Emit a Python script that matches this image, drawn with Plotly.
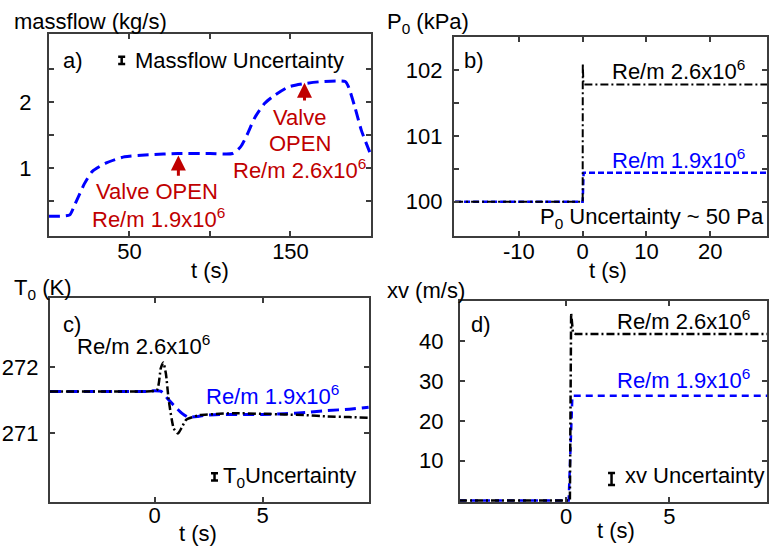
import plotly.graph_objects as go

W, H = 769, 546
FONT = "Liberation Sans, Arial, sans-serif"
FS = 22
BLUE = "#0000FF"
RED = "#C00000"
BLACK = "#000000"
FRAME = "#3c3c3c"

# ---- Panel a: massflow ----
t_a = [0, 8, 13, 16, 19, 22, 27, 35, 47, 62, 80, 100, 114, 119, 123, 128, 134, 140, 149, 159, 170, 184, 186, 190, 194, 200]
m_a = [0.27, 0.27, 0.29, 0.44, 0.60, 0.76, 0.95, 1.07, 1.17, 1.20, 1.22, 1.22, 1.22, 1.32, 1.50, 1.77, 1.98, 2.10, 2.23, 2.28, 2.31, 2.31, 2.23, 1.92, 1.57, 1.19]

# ---- Panel b: P0 ----
t_b_lo = [-20, 0, 0.15, 29]
p_b_lo = [100.0, 100.0, 100.44, 100.44]
t_b_hi = [-20, 0, 0.02, 0.12, 29]
p_b_hi = [100.0, 100.0, 102.1, 101.78, 101.78]
ticks_b = [-10, 0, 10, 20]
ticklabels_b = ["-10", "0", "10", "20"]

# ---- Panel c: T0 ----
t_c_lo = [-4.85, -1, -0.3, 0.0, 0.3, 0.6, 0.85, 1.0, 1.25, 1.54, 2.0, 2.38, 3.0, 4.0, 5.0, 6.0, 7.0, 8.0, 9.0, 9.9]
T_c_lo = [271.63, 271.63, 271.63, 271.64, 271.63, 271.52, 271.43, 271.38, 271.30, 271.24, 271.25, 271.27, 271.28, 271.28, 271.28, 271.29, 271.31, 271.34, 271.36, 271.39]
t_c_hi = [-4.85, -1, 0.1, 0.28, 0.4, 0.52, 0.65, 0.88, 1.08, 1.25, 1.46, 2.08, 3.0, 3.6, 5.0, 6.0, 7.0, 8.0, 9.0, 9.9]
T_c_hi = [271.63, 271.63, 271.65, 271.98, 272.07, 271.90, 271.50, 271.07, 270.99, 271.08, 271.20, 271.27, 271.29, 271.30, 271.29, 271.28, 271.27, 271.25, 271.24, 271.23]

# ---- Panel d: xv ----
t_d_lo = [-5.2, 0.12, 0.3, 9.8]
v_d_lo = [0.0, 0.0, 26.3, 26.3]
t_d_hi = [-5.2, 0.18, 0.24, 0.33, 0.45, 9.8]
v_d_hi = [0.0, 0.0, 47.0, 42.0, 41.8, 41.8]

# uncertainty markers: (t, value, half-range)
unc_a = (45.2, 2.63, 0.056)
unc_c = (2.77, 270.33, 0.055)
unc_d = (2.2, 5.4, 1.5)

LABEL_HI = "Re/m 2.6x10<sup>6</sup>"
LABEL_LO = "Re/m 1.9x10<sup>6</sup>"

fig = go.Figure()

DASH_BLUE = "11px,6px"
DASH_BLACK = "8px,3px,2px,3px"

fig.add_trace(go.Scatter(x=t_a, y=m_a, mode="lines", line=dict(color=BLUE, width=3, dash=DASH_BLUE, shape="spline", smoothing=0.6), xaxis="x", yaxis="y"))

fig.add_trace(go.Scatter(x=t_b_lo, y=p_b_lo, mode="lines", line=dict(color=BLUE, width=2.5, dash="6px,3px"), xaxis="x2", yaxis="y2"))
fig.add_trace(go.Scatter(x=t_b_hi, y=p_b_hi, mode="lines", line=dict(color=BLACK, width=2, dash=DASH_BLACK), xaxis="x2", yaxis="y2"))

fig.add_trace(go.Scatter(x=t_c_lo, y=T_c_lo, mode="lines", line=dict(color=BLUE, width=3, dash=DASH_BLUE, shape="spline", smoothing=0.5), xaxis="x3", yaxis="y3"))
fig.add_trace(go.Scatter(x=t_c_hi, y=T_c_hi, mode="lines", line=dict(color=BLACK, width=2.5, dash=DASH_BLACK, shape="spline", smoothing=0.5), xaxis="x3", yaxis="y3"))

fig.add_trace(go.Scatter(x=t_d_lo, y=v_d_lo, mode="lines", line=dict(color=BLUE, width=2.5, dash="7px,5px"), xaxis="x4", yaxis="y4"))
fig.add_trace(go.Scatter(x=t_d_hi, y=v_d_hi, mode="lines", line=dict(color=BLACK, width=2.5, dash=DASH_BLACK), xaxis="x4", yaxis="y4"))

for (u, xa, ya) in [(unc_a, "x", "y"), (unc_c, "x3", "y3"), (unc_d, "x4", "y4")]:
    fig.add_trace(go.Scatter(x=[u[0]], y=[u[1]], mode="markers", marker=dict(size=1, color=BLACK),
                             error_y=dict(type="constant", value=u[2], width=3.5, thickness=2.5, color=BLACK),
                             xaxis=xa, yaxis=ya))

def px_x(p):
    return p / W

def px_y(p):
    return 1 - p / H

common = dict(showline=True, linecolor=FRAME, linewidth=2, mirror="ticks", ticks="inside",
              ticklen=5, tickwidth=1.5, tickcolor=FRAME, showgrid=False, zeroline=False,
              tickfont=dict(family=FONT, size=FS, color=BLACK))

fig.update_layout(
    width=W, height=H, margin=dict(l=0, r=0, t=0, b=0),
    paper_bgcolor="white", plot_bgcolor="white", showlegend=False,
    font=dict(family=FONT, size=FS, color=BLACK),
    xaxis=dict(domain=[px_x(49), px_x(372)], range=[0, 200], anchor="y",
               tickvals=[50, 100, 150], ticktext=["50", "", "150"], ticklabelstandoff=-5, **common),
    yaxis=dict(domain=[px_y(236), px_y(34)], range=[-0.03, 3.03], anchor="x",
               tickvals=[0.5, 1, 1.5, 2, 2.5], ticktext=["", "1", "", "2", ""], ticklabelstandoff=11, **common),
    xaxis2=dict(domain=[px_x(455), 1.0], range=[-20.2, 28.9], anchor="y2",
                tickvals=ticks_b, ticktext=ticklabels_b, ticklabelstandoff=-5, **common),
    yaxis2=dict(domain=[px_y(236), px_y(37)], range=[99.48, 102.5], anchor="x2",
                tickvals=[100, 100.5, 101, 101.5, 102], ticktext=["100", "", "101", "", "102"], ticklabelstandoff=5, **common),
    xaxis3=dict(domain=[px_x(50), px_x(370)], range=[-4.85, 9.92], anchor="y3",
                tickvals=[0, 5], ticklabelstandoff=-7, **common),
    yaxis3=dict(domain=[px_y(502), px_y(298)], range=[269.95, 273.05], anchor="x3",
                tickvals=[271, 272], ticklabelstandoff=5, **common),
    xaxis4=dict(domain=[px_x(461), 1.0], range=[-5.16, 9.74], anchor="y4",
                tickvals=[0, 5], ticklabelstandoff=-6, **common),
    yaxis4=dict(domain=[px_y(502), px_y(301)], range=[-0.35, 50.05], anchor="x4",
                tickvals=[10, 20, 30, 40], ticklabelstandoff=10, **common),
)

ann = []

def txt(x, y, text, xref, yref, color=BLACK, xanchor="center", yanchor="middle"):
    ann.append(dict(x=x, y=y, text=text, xref=xref, yref=yref, showarrow=False,
                    font=dict(family=FONT, size=FS, color=color), xanchor=xanchor, yanchor=yanchor))

# axis titles (paper coordinates)
txt(px_x(12), px_y(22), "massflow (kg/s)", "paper", "paper", xanchor="left")
txt(px_x(386), px_y(23), "P<sub>0</sub> (kPa)", "paper", "paper", xanchor="left")
txt(px_x(12), px_y(289), "T<sub>0</sub> (K)", "paper", "paper", xanchor="left")
txt(px_x(386), px_y(290), "xv (m/s)", "paper", "paper", xanchor="left")
txt(px_x(211), px_y(270), "t (s)", "paper", "paper")
txt(px_x(610), px_y(270), "t (s)", "paper", "paper")
txt(px_x(199), px_y(533), "t (s)", "paper", "paper")
txt(px_x(618), px_y(530), "t (s)", "paper", "paper")

# panel a
txt(15.2, 2.63, "a)", "x", "y")
txt(52.5, 2.63, "Massflow Uncertainty", "x", "y", xanchor="left")
txt(67.4, 0.65, "Valve OPEN", "x", "y", color=RED)
txt(67.8, 0.25, LABEL_LO, "x", "y", color=RED)
txt(155.5, 1.77, "Valve", "x", "y", color=RED)
txt(155.6, 1.37, "OPEN", "x", "y", color=RED)
txt(155.6, 0.98, LABEL_HI, "x", "y", color=RED)
for (xh, yh, yt) in [(80.4, 1.19, 0.86), (158.7, 2.29, 2.0)]:
    ann.append(dict(x=xh, y=yh, ax=xh, ay=yt, xref="x", yref="y", axref="x", ayref="y",
                    showarrow=True, arrowhead=2, arrowsize=1, arrowwidth=3, arrowcolor=RED, text=""))

# panel b
txt(-17.0, 102.15, "b)", "x2", "y2")
txt(15.1, 102.0, LABEL_HI, "x2", "y2")
txt(15.1, 100.65, LABEL_LO, "x2", "y2", color=BLUE)
txt(10.8, 99.75, "P<sub>0</sub> Uncertainty ~ 50 Pa", "x2", "y2")

# panel c
txt(-3.84, 272.65, "c)", "x3", "y3")
txt(-0.5, 272.33, LABEL_HI, "x3", "y3")
txt(5.43, 271.57, LABEL_LO, "x3", "y3", color=BLUE)
txt(3.08, 270.33, "T<sub>0</sub>Uncertainty", "x3", "y3", xanchor="left")

# panel d
txt(-4.12, 44.2, "d)", "x4", "y4")
txt(5.68, 45.2, LABEL_HI, "x4", "y4")
txt(5.68, 30.6, LABEL_LO, "x4", "y4", color=BLUE)
txt(2.77, 6.2, "xv Uncertainty", "x4", "y4", xanchor="left")

fig.update_layout(annotations=ann)

fig.write_html("out.html")
